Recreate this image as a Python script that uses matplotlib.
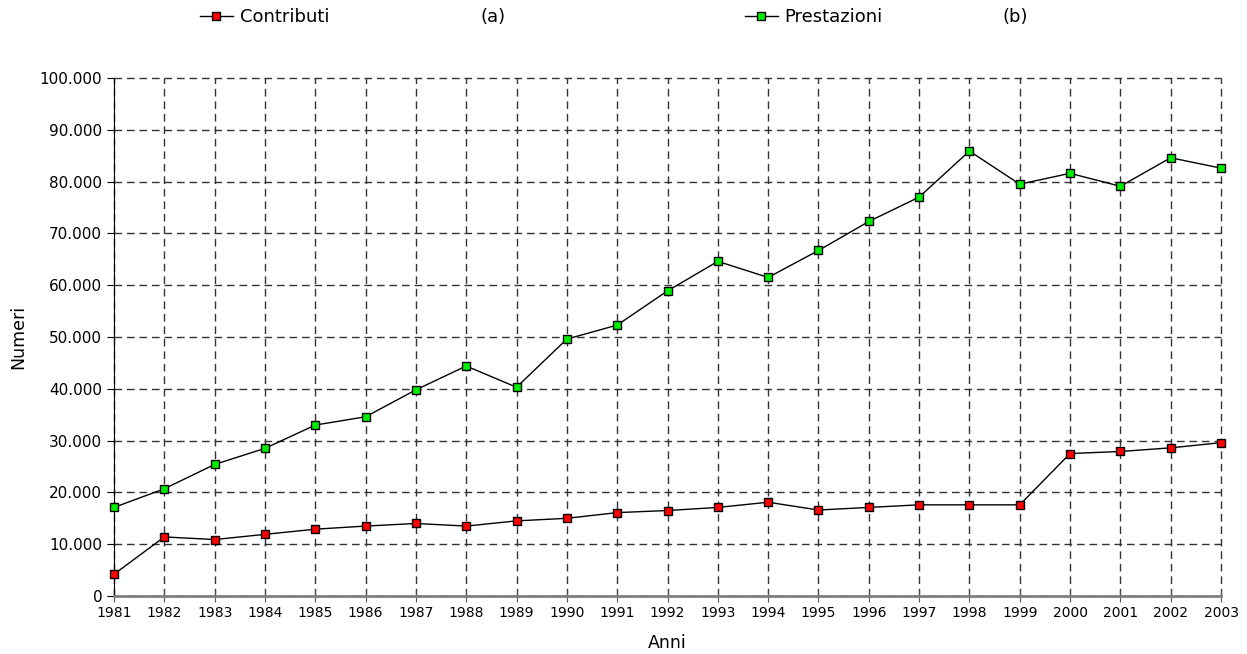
import matplotlib
matplotlib.use('Agg')
import matplotlib.pyplot as plt
from matplotlib.ticker import FuncFormatter

anni = list(range(1981, 2004))
contributi = [4200, 11400, 10900, 11900, 12900, 13500, 14000, 13500, 14500, 15000,
              16100, 16500, 17100, 18100, 16600, 17100, 17600, 17600, 17600, 27500,
              27900, 28600, 29600]
prestazioni = [17100, 20700, 25400, 28500, 33000, 34600, 39800, 44400, 40300, 49600,
               52300, 58900, 64600, 61500, 66700, 72300, 77000, 85900, 79500, 81600,
               79100, 84600, 82600]
yticks = list(range(0, 100001, 10000))

plt.rcParams['font.family'] = 'DejaVu Sans'

fig = plt.figure(figsize=(12.47, 6.54), dpi=100)
ax = fig.add_axes([114/1247, 1 - 596/654, (1221 - 114)/1247, (596 - 78)/654])

l1, = ax.plot(anni, contributi, color='black', lw=1, marker='s', markersize=6,
              markerfacecolor='#ff0000', markeredgecolor='black', markeredgewidth=1,
              label='Contributi', zorder=3, clip_on=False)
l2, = ax.plot(anni, prestazioni, color='black', lw=1, marker='s', markersize=6,
              markerfacecolor='#00ee00', markeredgecolor='black', markeredgewidth=1,
              label='Prestazioni', zorder=3, clip_on=False)

ax.set_xlim(1981, 2003)
ax.set_ylim(0, 100000)
ax.set_xticks(anni)
ax.set_yticks(yticks)
ax.yaxis.set_major_formatter(FuncFormatter(lambda v, p: f'{int(v):,}'.replace(',', '.')))
ax.tick_params(axis='x', labelsize=10, direction='inout', length=8, color='#555555', pad=3)
ax.tick_params(axis='y', labelsize=11, direction='out', length=5)

ax.grid(True, color='#333333', lw=1, linestyle=(0, (5.5, 3.5)))
ax.set_axisbelow(True)
for gl in ax.get_xgridlines() + ax.get_ygridlines():
    gl.set_clip_on(False)
for s in ['top', 'right']:
    ax.spines[s].set_visible(False)
ax.spines['left'].set_color('black')
ax.spines['bottom'].set_color('#808080')
ax.spines['bottom'].set_linewidth(2)
ax.spines['bottom'].set_zorder(4)

ax.set_xlabel('Anni', fontsize=12.5)
ax.set_ylabel('Numeri', fontsize=12.5)
ax.xaxis.set_label_coords(0.5, -38/518, transform=ax.transAxes)
ax.yaxis.set_label_coords(-87/1107, 0.5, transform=ax.transAxes)

for h, x in [(l1, 200), (l2, 745)]:
    fig.legend(handles=[h], loc='center left', bbox_to_anchor=(x/1247, 1 - 17/654),
               frameon=False, fontsize=13, handlelength=1.8, handletextpad=0.4,
               borderpad=0, borderaxespad=0)
fig.text(481/1247, 1 - 17/654, '(a)', fontsize=13, va='center')
fig.text(1003/1247, 1 - 17/654, '(b)', fontsize=13, va='center')

fig.savefig('out.png', dpi=100)
